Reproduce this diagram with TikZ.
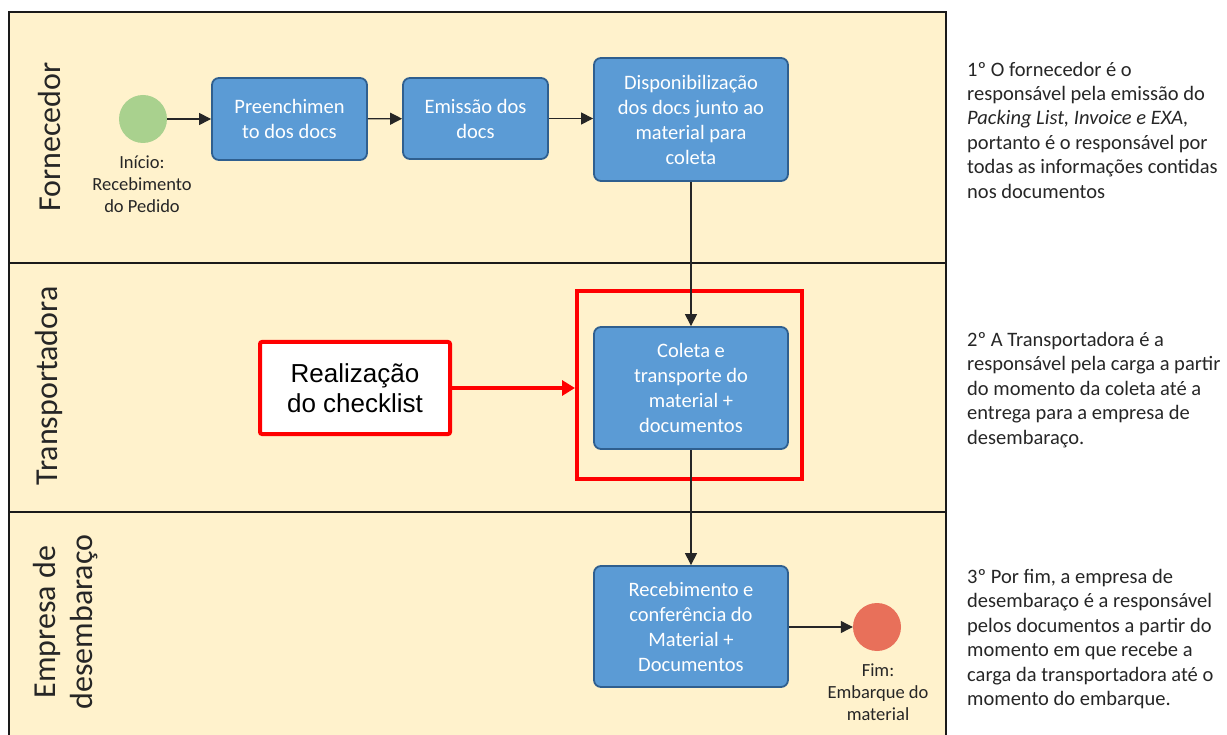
\documentclass[tikz,border=0pt]{standalone}
\usepackage{fontspec}
\setmainfont{Carlito}
\newfontfamily\arialfont{Liberation Sans}
\usetikzlibrary{arrows.meta}
\definecolor{lanefill}{HTML}{FFF2CC}
\definecolor{boxfill}{HTML}{5B9BD5}
\definecolor{boxline}{HTML}{2F5F8F}
\definecolor{startgreen}{HTML}{A9D18E}
\definecolor{endred}{HTML}{E8705A}
\definecolor{pooline}{HTML}{1A1A1A}
\definecolor{flowcol}{HTML}{262626}
\definecolor{labcol}{HTML}{262626}
\tikzset{
  task/.style={draw=boxline, line width=1.8pt, fill=boxfill, rounded corners=7pt,
    text=white, font=\fontsize{20.5}{25}\selectfont, align=center, inner sep=0pt},
  evlabel/.style={font=\fontsize{18.5}{22}\selectfont, align=center, text=labcol, inner sep=0pt},
  flow/.style={draw=flowcol, line width=1.1pt, -{Triangle[length=12pt,width=12pt]}},
  redflow/.style={draw=red, line width=4pt, -{Triangle[length=13pt,width=15pt]}},
  note/.style={anchor=west, align=left, font=\fontsize{20.5}{24.4}\selectfont, text=labcol, inner sep=0pt},
  lanelabel/.style={rotate=90, font=\fontsize{32}{37}\selectfont, align=center, text=labcol, inner sep=0pt},
  lanesep/.style={draw=pooline, line width=1.8pt}
}
\begin{document}
\begin{tikzpicture}[x=1pt,y=-1pt]
\useasboundingbox (0,0) rectangle (1227,735);
% pool
\fill[lanefill] (9,12) rectangle (946,740);
\draw[lanesep] (9,740) -- (9,12) -- (946,12) -- (946,740);
\draw[lanesep] (9,263) -- (946,263);
\draw[lanesep] (9,512) -- (946,512);
% lane labels
\node[lanelabel] (lf) at (49,137) {Fornecedor};
\node[lanelabel] (lt) at (49,386) {Transportadora};
\node[lanelabel] (le) at (66,622) {Empresa de\\desembaraço};
% start
\node[circle, fill=startgreen, minimum size=48pt, inner sep=0pt] (start) at (143,119) {};
\node[evlabel] (startlab) at (142,184) {Início:\\Recebimento\\do Pedido};
% tasks
\node[task, minimum width=155pt, minimum height=82pt] (t1) at (289.5,119) {Preenchimen\\to dos docs};
\node[task, minimum width=145pt, minimum height=81pt] (t2) at (475.5,118.5) {Emissão dos\\docs};
\node[task, minimum width=194pt, minimum height=123pt] (t3) at (691,119.5) {Disponibilização\\dos docs junto ao\\material para\\coleta};
\node[task, minimum width=194pt, minimum height=122pt] (t4) at (691,388) {Coleta e\\transporte do\\material +\\documentos};
\node[task, minimum width=194pt, minimum height=121pt] (t5) at (691,626.5) {Recebimento e\\conferência do\\Material +\\Documentos};
% end
\node[circle, fill=endred, minimum size=48pt, inner sep=0pt] (endev) at (877,627) {};
\node[evlabel] (endlab) at (878,692) {Fim:\\Embarque do\\material};
% highlight
\node[draw=red, line width=4pt, minimum width=225pt, minimum height=188pt, inner sep=0pt] (hl) at (689.5,385) {};
\node[draw=red, line width=4pt, fill=white, rounded corners=2pt, minimum width=190pt, minimum height=92pt,
  font=\arialfont\fontsize{26}{30}\selectfont, align=center, inner sep=0pt] (chk) at (355,388) {Realização\\do checklist};
% flows
\draw[flow] (start) -- (t1);
\draw[flow] (t1) -- (t2);
\draw[flow] (t2.east) -- (t2.east -| t3.west);
\draw[flow] (t3) -- (t4);
\draw[flow] (t4) -- (t5);
\draw[flow] (t5.east |- endev) -- (endev);
\draw[redflow] (chk.east) -- (chk.east -| hl.west);
% notes
\node[note] (n1) at (967,130) {1º O fornecedor é o\\responsável pela emissão do\\\textit{Packing List, Invoice e EXA,}\\portanto é o responsável por\\todas as informações contidas\\nos documentos};
\node[note] (n2) at (967,390) {2º A Transportadora é a\\responsável pela carga a partir\\do momento da coleta até a\\entrega para a empresa de\\desembaraço.};
\node[note] (n3) at (967,639) {3º Por fim, a empresa de\\desembaraço é a responsável\\pelos documentos a partir do\\momento em que recebe a\\carga da transportadora até o\\momento do embarque.};
\end{tikzpicture}
\end{document}
